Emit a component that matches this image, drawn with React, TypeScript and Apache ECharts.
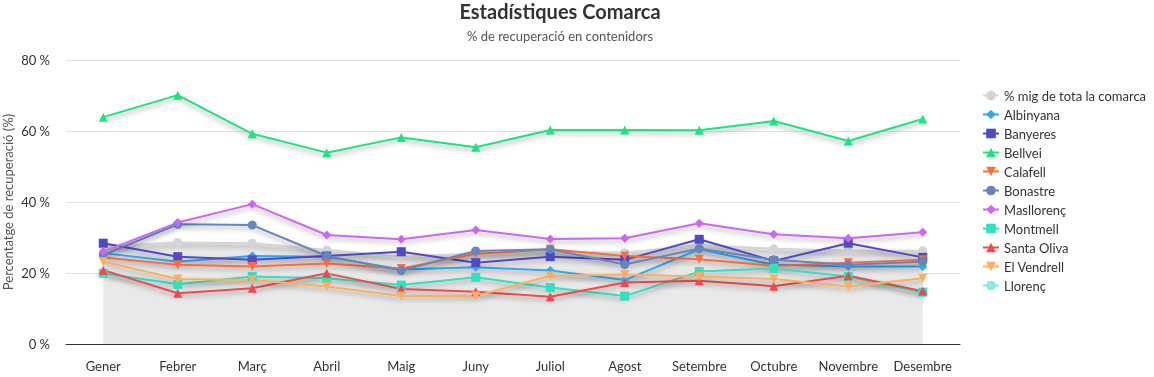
import React, { useEffect, useRef } from "react";
import * as echarts from "echarts";

const months = ["Gener", "Febrer", "Març", "Abril", "Maig", "Juny", "Juliol", "Agost", "Setembre", "Octubre", "Novembre", "Desembre"];

const mitjana = [27.5, 28.6, 28.4, 26.5, 24.6, 25.5, 26.0, 25.7, 27.9, 26.8, 26.3, 26.3];
const albinyana = [25.6, 23.2, 24.8, 24.6, 21.0, 21.6, 20.7, 18.0, 26.7, 22.3, 21.8, 21.8];
const banyeres = [28.4, 24.6, 23.7, 24.8, 26.0, 22.9, 24.6, 23.7, 29.5, 23.4, 28.4, 24.4];
const bellvei = [63.9, 70.1, 59.2, 53.9, 58.2, 55.4, 60.3, 60.3, 60.2, 62.8, 57.2, 63.4];
const calafell = [24.4, 22.3, 21.8, 22.7, 21.3, 25.4, 26.7, 24.8, 23.9, 22.0, 22.9, 23.7];
const bonastre = [25.1, 33.7, 33.5, 24.8, 20.7, 26.2, 26.7, 22.4, 26.9, 23.7, 22.3, 23.2];
const masllorenc = [26.0, 34.2, 39.4, 30.7, 29.5, 32.1, 29.6, 29.8, 34.0, 30.9, 29.8, 31.5];
const montmell = [19.9, 16.8, 19.0, 18.5, 16.6, 18.8, 15.9, 13.5, 20.4, 21.3, 19.0, 14.6];
const santaOliva = [20.8, 14.3, 15.7, 19.9, 15.5, 14.7, 13.3, 17.3, 17.8, 16.3, 19.2, 14.9];
const elVendrell = [23.2, 18.3, 18.0, 16.2, 13.5, 13.5, 19.2, 19.6, 19.0, 18.3, 16.2, 18.5];
const llorenc: (number | null)[] = [null, null, null, null, null, null, null, null, null, null, null, null];

const FONT = "Lato, 'Open Sans', sans-serif";

export default function App() {
  const ref = useRef<HTMLDivElement>(null);
  useEffect(() => {
    if (!ref.current) return;
    const chart = echarts.init(ref.current, null, { renderer: "svg" });
    const shadow = { shadowColor: "rgba(0,0,0,0.35)", shadowBlur: 5, shadowOffsetY: 3 };
    const mk = (name: string, data: (number | null)[], color: string, symbol: string, rotate = 0, z = 3) => ({
      name,
      type: "line",
      data,
      symbol,
      symbolSize: 9,
      symbolRotate: rotate,
      showSymbol: true,
      z,
      itemStyle: { color },
      lineStyle: { width: 2, color, ...shadow },
      emphasis: { disabled: true },
    });
    const series: any[] = [
      {
        ...mk("% mig de tota la comarca", mitjana, "#d4d4d4", "circle", 0, 1),
        areaStyle: { color: "#e9e9e9", opacity: 1 },
      },
      mk("Albinyana", albinyana, "#2fa8f8", "diamond"),
      mk("Banyeres", banyeres, "#4f4ac6", "rect"),
      mk("Bellvei", bellvei, "#1de47c", "triangle"),
      mk("Calafell", calafell, "#ff6b3d", "triangle", 180),
      mk("Bonastre", bonastre, "#6585bd", "circle"),
      mk("Masllorenç", masllorenc, "#cc66f5", "diamond"),
      mk("Montmell", montmell, "#30e0c0", "rect"),
      mk("Santa Oliva", santaOliva, "#f24848", "triangle"),
      mk("El Vendrell", elVendrell, "#ffad5f", "triangle", 180),
      mk("Llorenç", llorenc, "#8fe8e0", "circle"),
    ];
    chart.setOption({
      animation: false,
      textStyle: { fontFamily: FONT },
      title: {
        text: "Estadístiques Comarca",
        subtext: "% de recuperació en contenidors",
        left: 555,
        textAlign: "center",
        top: 0,
        padding: [1, 5],
        itemGap: 8,
        textStyle: { fontFamily: FONT, fontSize: 20, fontWeight: "bold", color: "#333" },
        subtextStyle: { fontFamily: FONT, fontSize: 13, color: "#555" },
      },
      legend: {
        orient: "vertical",
        left: 977,
        top: 84,
        itemWidth: 16,
        itemHeight: 12,
        itemGap: 6,
        textStyle: { fontFamily: FONT, fontSize: 13, color: "#333" },
        data: series.map((s) => s.name),
      },
      grid: { left: 66, right: 194, top: 60, bottom: 33, outerBoundsMode: "none", containLabel: false },
      xAxis: {
        type: "category",
        data: months,
        boundaryGap: true,
        axisLine: { lineStyle: { color: "#333", width: 1 } },
        axisTick: { show: false },
        axisLabel: { color: "#333", fontSize: 13, margin: 15, interval: 0, fontFamily: FONT },
      },
      yAxis: {
        type: "value",
        min: 0,
        max: 80,
        interval: 20,
        name: "Percentatge de recuperació (%)",
        nameLocation: "middle",
        nameGap: 52,
        nameMoveOverlap: false,
        nameTextStyle: { color: "#555", fontSize: 13, fontFamily: FONT },
        axisLine: { show: false },
        axisTick: { show: false },
        axisLabel: { color: "#333", fontSize: 13, margin: 16, formatter: "{value} %", fontFamily: FONT },
        splitLine: { lineStyle: { color: "#e3e3e3" } },
      },
      series,
    });
    return () => chart.dispose();
  }, []);
  return <div ref={ref} style={{ position: "fixed", left: 0, top: 0, width: 1154, height: 377 }} />;
}
